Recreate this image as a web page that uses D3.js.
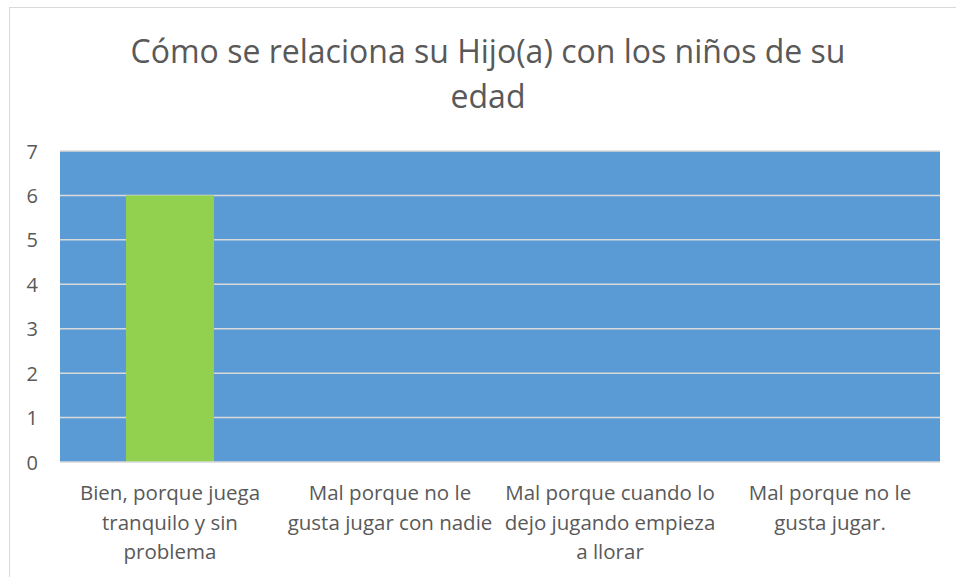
<!DOCTYPE html>
<html>
<head>
<meta charset="utf-8">
<script src="https://cdn.jsdelivr.net/npm/d3@7"></script>
<style>
  body { margin: 0; background: #fff; }
  text { font-family: "Open Sans", "Noto Sans", sans-serif; fill: #595959; }
</style>
</head>
<body>
<div id="chart"></div>
<script>
// data
var categories = [
  "Bien, porque juega\ntranquilo y sin\nproblema",
  "Mal porque no le\ngusta jugar con nadie",
  "Mal porque cuando lo\ndejo jugando empieza\na llorar",
  "Mal porque no le\ngusta jugar."
];
var values = [6, 0, 0, 0];
var yTicks = [0, 1, 2, 3, 4, 5, 6, 7];
var titleLines = ["Cómo se relaciona su Hijo(a) con los niños de su", "edad"];

var W = 956, H = 577;
var m = {left: 60, right: 16, top: 151, bottom: 115};

var svg = d3.select("#chart").append("svg")
    .attr("width", W).attr("height", H);

// chart border
svg.append("rect")
    .attr("x", 9.5).attr("y", 7.5)
    .attr("width", W).attr("height", H)
    .attr("fill", "none").attr("stroke", "#d9d9d9");

var x = d3.scaleBand()
    .domain(d3.range(categories.length))
    .range([m.left, W - m.right])
    .paddingInner(0.6).paddingOuter(0.3);

var y = d3.scaleLinear()
    .domain([0, 7])
    .range([H - m.bottom, m.top]);

// plot area
svg.append("rect")
    .attr("x", m.left).attr("y", y(7))
    .attr("width", W - m.right - m.left)
    .attr("height", y(0) - y(7))
    .attr("fill", "#5b9bd5");

// gridlines
svg.append("g").selectAll("line")
    .data(yTicks.slice(1))
    .enter().append("line")
    .attr("x1", m.left).attr("x2", W - m.right)
    .attr("y1", d => y(d)).attr("y2", d => y(d))
    .attr("stroke", "#d9d9d9").attr("stroke-width", 1.5);

// bars
svg.append("g").selectAll("rect")
    .data(values)
    .enter().append("rect")
    .attr("x", (d, i) => x(i))
    .attr("y", d => y(d))
    .attr("width", x.bandwidth())
    .attr("height", d => y(0) - y(d))
    .attr("fill", "#92d050");

// x axis line
svg.append("line")
    .attr("x1", m.left).attr("x2", W - m.right)
    .attr("y1", y(0)).attr("y2", y(0))
    .attr("stroke", "#d9d9d9").attr("stroke-width", 1.5);

// y tick labels
svg.append("g").selectAll("text")
    .data(yTicks)
    .enter().append("text")
    .attr("x", 38)
    .attr("y", d => y(d) + 7.5)
    .attr("text-anchor", "end")
    .style("font-size", "20px")
    .text(d => d);

// category labels
var cat = svg.append("g").selectAll("text")
    .data(categories)
    .enter().append("text")
    .attr("text-anchor", "middle")
    .style("font-size", "20.5px");
cat.each(function(d, i) {
  var t = d3.select(this);
  d.split("\n").forEach(function(line, k) {
    t.append("tspan")
      .attr("x", x(i) + x.bandwidth() / 2)
      .attr("y", 500 + k * 29.5)
      .text(line);
  });
});

// title
svg.append("g").selectAll("text")
    .data(titleLines)
    .enter().append("text")
    .attr("x", 488)
    .attr("y", (d, i) => 63 + i * 45)
    .attr("text-anchor", "middle")
    .style("font-size", "32px")
    .text(d => d);
</script>
</body>
</html>
